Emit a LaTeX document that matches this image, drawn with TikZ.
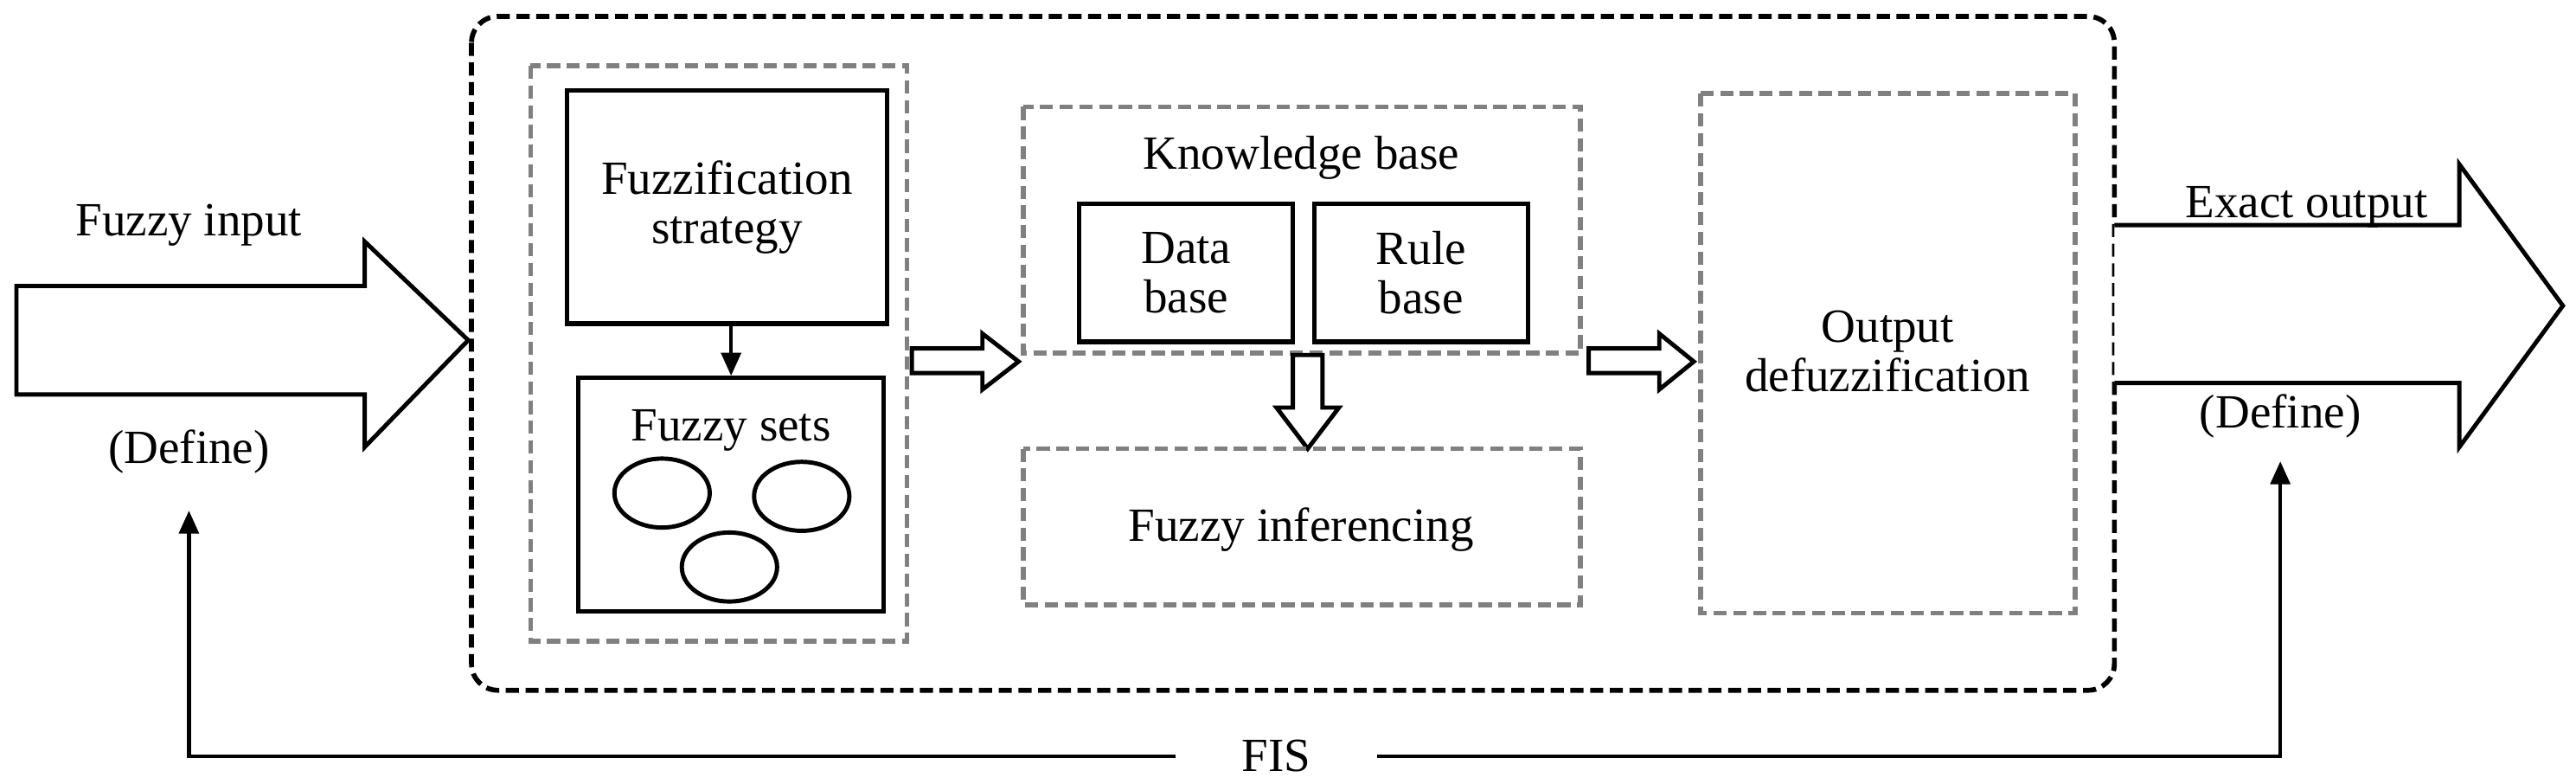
\documentclass[tikz,border=0pt]{standalone}
\usepackage{fontspec}
\setmainfont{Liberation Serif}
\usetikzlibrary{arrows.meta}
\begin{document}
\begin{tikzpicture}[x=0.5pt,y=-0.5pt,
  txt/.style={font=\fontsize{14.5}{15}\selectfont,align=center,inner sep=1pt},
  blk/.style={draw,line width=1.4pt},
  gbox/.style={draw=gray,dash pattern=on 4pt off 2pt,line width=1.5pt},
  barrow/.style={draw,line width=1.3pt,fill=white},
  conn/.style={line width=1.1pt,-{Triangle[length=7pt,width=6pt]}}]
\useasboundingbox (0,0) rectangle (1568,477);
% outer
\draw[line width=1.5pt,dash pattern=on 4pt off 2pt,rounded corners=8pt] (287,10) rectangle (1287,420);
% big arrows
\draw[barrow] (10,174) -- (222,174) -- (222,147) -- (285,207) -- (222,272) -- (222,240) -- (10,240) -- cycle;
\draw[barrow] (1287,137) -- (1497,137) -- (1497,100) -- (1560,186) -- (1497,272) -- (1497,233) -- (1287,233);
\node[txt] (fin) at (115,137) {Fuzzy input};
\node[txt] (dl) at (115,275) {(Define)};
\node[txt] (eo) at (1404,126) {Exact output};
\node[txt] (dr) at (1388,253) {(Define)};
\node[txt,inner sep=20pt] (fis) at (777,460) {FIS};
\draw[conn] (fis.west) -| ([yshift=-10pt]dl.south);
\draw[conn] (fis.east) -| ([yshift=-6pt]dr.south);
% fuzzification
\draw[gbox] (323,40) rectangle (552,390);
\node[blk,minimum width=97.5pt,minimum height=71pt,txt] (fs) at (442.5,126) {Fuzzification\\strategy};
\node[blk,minimum width=93pt,minimum height=71pt] (set) at (445,301) {};
\node[txt] (setl) at (445,262) {Fuzzy sets};
\draw[line width=1.3pt] (403,300) ellipse (29 and 21);
\draw[line width=1.3pt] (488,302) ellipse (29 and 21);
\draw[line width=1.3pt] (444,345) ellipse (29 and 21);
\draw[conn] (fs.south -| set.north) -- (set.north);
% small arrows
\draw[barrow] (555,212) -- (598,212) -- (598,203) -- (620,220) -- (598,237) -- (598,227) -- (555,227) -- cycle;
\draw[barrow] (967,212) -- (1010,212) -- (1010,203) -- (1031,220) -- (1010,237) -- (1010,227) -- (967,227) -- cycle;
% knowledge base
\draw[gbox] (623,65) rectangle (962,215);
\node[txt] (kb) at (792,96) {Knowledge base};
\node[blk,txt,minimum width=65pt,minimum height=42pt] (db) at (722,166) {Data\\base};
\node[blk,txt,minimum width=65pt,minimum height=42pt] (rb) at (865,166) {Rule\\base};
\draw[barrow] (787,216) -- (805,216) -- (805,248) -- (815,248) -- (796,273) -- (777,248) -- (787,248) -- cycle;
\draw[gbox] (623,273) rectangle (962,368);
\node[txt] (fi) at (792,322) {Fuzzy inferencing};
% defuzz
\draw[gbox] (1035,57) rectangle (1263,373);
\node[txt] (od) at (1149,214) {Output\\defuzzification};
\end{tikzpicture}
\end{document}
